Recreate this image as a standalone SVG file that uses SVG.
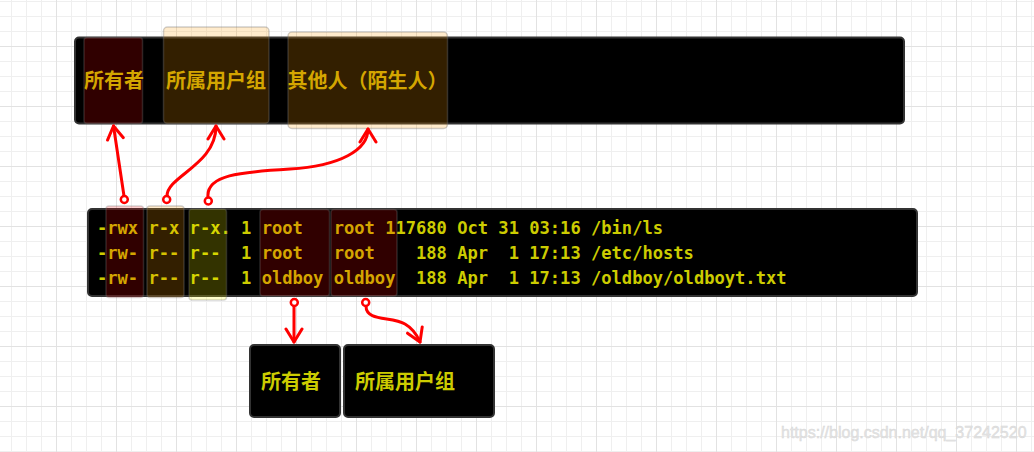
<svg xmlns="http://www.w3.org/2000/svg" width="1034" height="452" viewBox="0 0 1034 452">
<defs>
<pattern id="grid" x="11" y="1" width="60" height="60" patternUnits="userSpaceOnUse">
<path d="M0.5,0V60M15.5,0V60M30.5,0V60M0,0.5H60M0,15.5H60M0,30.5H60" stroke="#efefef" stroke-width="1" fill="none"/>
<path d="M45.5,0V60M0,45.5H60" stroke="#e2e2e2" stroke-width="1" fill="none"/>
</pattern>
<marker id="arrow" markerUnits="userSpaceOnUse" viewBox="-16 -10 20 20" refX="0" refY="0" markerWidth="20" markerHeight="20" orient="auto">
<path d="M-13,-8 L0,0 L-13,8" fill="none" stroke="#ff0000" stroke-width="3" stroke-linecap="round" stroke-linejoin="round"/>
</marker>
<style>
.box{fill:#000;stroke:#333;stroke-width:2}
.red{fill:rgba(255,0,0,0.19);stroke:rgba(120,120,120,0.3);stroke-width:1.5}
.orange{fill:rgba(255,154,0,0.2);stroke:rgba(120,120,120,0.35);stroke-width:1.5}
.olive{fill:rgba(255,255,0,0.2);stroke:rgba(120,120,120,0.3);stroke-width:1.5}
.cjk{font-family:"Noto Sans CJK SC","Noto Sans CJK JP",sans-serif;font-weight:bold;font-size:20px}
.gold{fill:#d4a600}
.yel{fill:#cccc00}
.mono{font-family:"DejaVu Sans Mono","Liberation Mono",monospace;font-weight:bold;font-size:17.1px;fill:#cccc00;white-space:pre}
.conn{fill:none;stroke:#ff0000;stroke-width:3;stroke-linecap:round}
.dot{fill:#fff;stroke:#ff0000;stroke-width:2.5}
</style>
</defs>
<rect width="1034" height="452" fill="#fff"/>
<rect width="1034" height="452" fill="url(#grid)"/>

<g id="top-box">
<rect class="box" x="75" y="37.5" width="829" height="86" rx="4"/>
</g>
<g id="top-owner">
<rect class="red" x="84" y="37.5" width="58.5" height="86" rx="3"/>
<text class="cjk gold" x="84" y="87.5">所有者</text>
</g>
<g id="top-group">
<rect class="orange" x="163.5" y="27" width="105.5" height="96.5" rx="4"/>
<text class="cjk gold" x="166" y="87.5">所属用户组</text>
</g>
<g id="top-other">
<rect class="orange" x="288" y="32" width="159.5" height="96.5" rx="4"/>
<text class="cjk gold" x="287.5" y="87.5">其他人（陌生人）</text>
</g>

<g id="listing">
<rect class="box" x="88" y="209" width="829" height="87" rx="4"/>
<text class="mono" x="97" y="234" xml:space="preserve">-rwx r-x r-x. 1 root   root 117680 Oct 31 03:16 /bin/ls</text>
<text class="mono" x="97" y="259" xml:space="preserve">-rw- r-- r--  1 root   root    188 Apr  1 17:13 /etc/hosts</text>
<text class="mono" x="97" y="284" xml:space="preserve">-rw- r-- r--  1 oldboy oldboy  188 Apr  1 17:13 /oldboy/oldboyt.txt</text>
<rect class="red" x="106" y="206" width="37.5" height="91.5" rx="3"/>
<rect class="orange" x="147" y="206" width="37" height="91.5" rx="3"/>
<rect class="olive" x="189" y="209" width="37.5" height="91" rx="3"/>
<rect class="red" x="260" y="209.5" width="69.5" height="86.5" rx="3"/>
<rect class="red" x="331" y="209.5" width="66" height="86.5" rx="3"/>
</g>

<g id="connectors">
<path class="conn" d="M124,196 L113.5,126" marker-end="url(#arrow)"/>
<path class="conn" d="M167,196 C167,176 216,165 216,126" marker-end="url(#arrow)"/>
<path class="conn" d="M208,197 C206,175 240,172 290,169 C340,166 368,150 368,129" marker-end="url(#arrow)"/>
<path class="conn" d="M294,306 L294,342" marker-end="url(#arrow)"/>
<path class="conn" d="M366,306 C366,322 392,316 405,324 C412,328 417,335 420,342" marker-end="url(#arrow)"/>
<circle class="dot" cx="124.3" cy="199.5" r="3.5"/>
<circle class="dot" cx="166.7" cy="199.5" r="3.5"/>
<circle class="dot" cx="208.3" cy="201" r="3.5"/>
<circle class="dot" cx="294.3" cy="302.5" r="3.5"/>
<circle class="dot" cx="365.7" cy="302.5" r="3.5"/>
</g>

<g id="bottom-owner">
<rect class="box" x="250" y="345" width="90" height="72" rx="4"/>
<text class="cjk yel" x="261" y="388.5">所有者</text>
</g>
<g id="bottom-group">
<rect class="box" x="344" y="345" width="150" height="72" rx="4"/>
<text class="cjk yel" x="355" y="388.5">所属用户组</text>
</g>

<text x="781" y="438" font-family="Liberation Sans, Arial, sans-serif" font-size="16" fill="#e4e4e4" stroke="#d6d6d6" stroke-width="0.4">https://blog.csdn.net/qq_37242520</text>
</svg>
